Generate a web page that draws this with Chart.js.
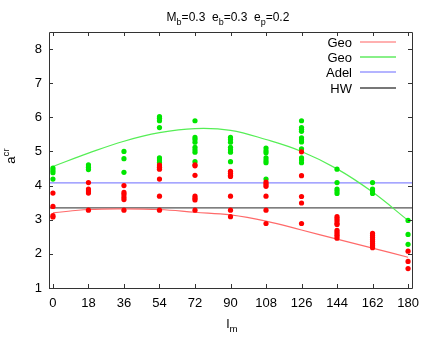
<!DOCTYPE html>
<html><head><meta charset="utf-8">
<script src="https://cdn.jsdelivr.net/npm/chart.js@4"></script>
<style>html,body{margin:0;padding:0;background:#fff}#wrap{width:436px;height:354px;position:relative}</style>
</head><body><div id="wrap"><canvas id="c"></canvas></div>
<script>
// ---- data ----
const xTicks = [0, 18, 36, 54, 72, 90, 108, 126, 144, 162, 180];
const yTicks = [1, 2, 3, 4, 5, 6, 7, 8];
// red Geo points, one list per l_m value in xTicks
const redPointValues = [
  [3.78, 3.39, 3.12, 3.08],
  [4.09, 3.90, 3.84, 3.78, 3.28],
  [4.00, 3.80, 3.74, 3.66, 3.59, 3.28],
  [4.60, 4.54, 4.48, 4.19, 3.69, 3.28],
  [4.61, 4.58, 4.30, 3.69, 3.63, 3.58, 3.28],
  [4.42, 4.36, 4.30, 4.27, 3.69, 3.28, 3.09],
  [4.10, 4.04, 3.98, 3.69, 3.28, 2.89],
  [4.99, 4.29, 3.68, 3.49, 2.89],
  [3.09, 3.03, 2.97, 2.90, 2.86, 2.69, 2.63, 2.57, 2.52, 2.46],
  [2.60, 2.54, 2.48, 2.42, 2.36, 2.30, 2.24, 2.18],
  [2.08, 1.78, 1.57]
];
// green Geo points, one list per l_m value in xTicks
const greenPointValues = [
  [4.51, 4.44, 4.38, 4.19],
  [4.61, 4.54, 4.47],
  [5.00, 4.79, 4.39],
  [6.02, 5.97, 5.90, 5.70, 4.81, 4.75, 4.68],
  [5.90, 5.41, 5.35, 5.27, 5.12, 5.05, 4.98, 4.70],
  [5.41, 5.35, 5.27, 5.12, 5.05, 4.98, 4.70],
  [5.10, 5.02, 4.96, 4.81, 4.73, 4.67, 4.19],
  [5.90, 5.70, 5.65, 5.59, 5.40, 5.34, 5.28, 5.08, 4.81, 4.75, 4.67],
  [4.48, 4.09, 3.90, 3.84, 3.77],
  [4.09, 3.90, 3.84, 3.77],
  [2.98, 2.57, 2.28]
];
// fitted curves read at each tick
const redFit   = [3.20, 3.30, 3.32, 3.30, 3.22, 3.14, 2.96, 2.70, 2.43, 2.17, 1.90];
const greenFit = [4.56, 4.95, 5.30, 5.55, 5.67, 5.62, 5.35, 5.00, 4.49, 3.81, 2.98];
const adelValue = 4.08;
const hwValue = 3.35;
const xRange = [-2, 182];
const yRange = [1, 8.5];

// ---- build datasets ----
const toPts = (cols) => cols.flatMap((vals, i) => vals.map(v => ({x: xTicks[i], y: v})));
const fitPts = (arr) => arr.map((v, i) => ({x: xTicks[i], y: v}));
const hLine = (v) => [{x: xRange[0], y: v}, {x: xRange[1], y: v}];

const FONT = '"Liberation Sans", Arial, sans-serif';

function drawRich(ctx, parts, x, y, align, size) {
  const sub = size * 0.75;
  let w = 0;
  parts.forEach(p => { ctx.font = (p.s ? sub : size) + 'px ' + FONT; w += ctx.measureText(p.t).width; });
  let cx = align === 'center' ? x - w / 2 : (align === 'right' ? x - w : x);
  ctx.textAlign = 'left'; ctx.textBaseline = 'alphabetic';
  parts.forEach(p => {
    ctx.font = (p.s ? sub : size) + 'px ' + FONT;
    const dy = p.s === 'sub' ? size * 0.3 : (p.s === 'sup' ? -size * 0.45 : 0);
    ctx.fillText(p.t, cx, y + dy);
    cx += ctx.measureText(p.t).width;
  });
}

const decor = {
  id: 'decor',
  afterDraw(chart) {
    const ctx = chart.ctx, a = chart.chartArea;
    const xs = chart.scales.x, ys = chart.scales.y;
    ctx.save();
    ctx.strokeStyle = '#333'; ctx.lineWidth = 1;
    ctx.beginPath();
    ctx.rect(Math.round(a.left) + 0.5, Math.round(a.top) + 0.5, Math.round(a.right - a.left), Math.round(a.bottom - a.top));
    const tl = 4;
    xs.ticks.forEach(t => {
      const px = Math.round(xs.getPixelForValue(t.value)) + 0.5;
      ctx.moveTo(px, a.bottom); ctx.lineTo(px, a.bottom - tl);
      ctx.moveTo(px, a.top); ctx.lineTo(px, a.top + tl);
    });
    ys.ticks.forEach(t => {
      const py = Math.round(ys.getPixelForValue(t.value)) + 0.5;
      ctx.moveTo(a.left, py); ctx.lineTo(a.left + tl, py);
      ctx.moveTo(a.right, py); ctx.lineTo(a.right - tl, py);
    });
    ctx.stroke();
    ctx.fillStyle = '#000';
    // title
    drawRich(ctx, [{t:'M'},{t:'b',s:'sub'},{t:'=0.3  e'},{t:'b',s:'sub'},{t:'=0.3  e'},{t:'p',s:'sub'},{t:'=0.2'}], 228, 21, 'center', 12);
    // x label
    drawRich(ctx, [{t:'l'},{t:'m',s:'sub'}], 232, 328, 'center', 13);
    // y label rotated
    ctx.save();
    ctx.translate(15, 156); ctx.rotate(-Math.PI / 2);
    drawRich(ctx, [{t:'a'},{t:'cr',s:'sup'}], 0, 0, 'center', 13);
    ctx.restore();
    // legend
    const items = chart.data.datasets.filter(d => d.inLegend);
    items.forEach((d, i) => {
      const y = 47 + i * 15.2;
      ctx.font = '13px ' + FONT; ctx.textAlign = 'right'; ctx.textBaseline = 'alphabetic';
      ctx.fillStyle = '#000';
      ctx.fillText(d.label, 352, y);
      ctx.strokeStyle = d.legendColor; ctx.lineWidth = 2;
      ctx.beginPath(); ctx.moveTo(360, Math.round(y - 5)); ctx.lineTo(396, Math.round(y - 5)); ctx.stroke();
    });
    ctx.restore();
  }
};

const lineDs = (label, data, color, legendColor, tension) => ({
  type: 'line', label, data, borderColor: color, borderWidth: 1.2, pointRadius: 0,
  fill: false, tension: tension, inLegend: true, legendColor, order: 2
});
const ptDs = (label, data, color) => ({
  type: 'scatter', label, data, backgroundColor: color, borderWidth: 0, pointRadius: 2.6,
  pointHoverRadius: 2.6, inLegend: false, order: 1
});

new Chart(document.getElementById('c'), {
  data: {
    datasets: [
      ptDs('Geo points', toPts(redPointValues), '#ff0000'),
      ptDs('Geo points', toPts(greenPointValues), '#00e600'),
      lineDs('Geo', fitPts(redFit), '#ff6a6a', '#ffb0b0', 0.4),
      lineDs('Geo', fitPts(greenFit), '#55ee55', '#88f088', 0.4),
      lineDs('Adel', hLine(adelValue), '#8888ff', '#b4b4ff', 0),
      lineDs('HW', hLine(hwValue), '#555555', '#777777', 0)
    ]
  },
  options: {
    responsive: true, maintainAspectRatio: false, animation: false,
    layout: { padding: { left: 0, right: 24, top: 32, bottom: 0 } },
    plugins: { legend: { display: false }, title: { display: false }, tooltip: { enabled: false } },
    scales: {
      x: {
        type: 'linear', min: xRange[0], max: xRange[1],
        afterBuildTicks: s => { s.ticks = xTicks.map(v => ({value: v})); },
        afterFit: s => { s.height = 66; },
        grid: { display: false, drawTicks: false }, border: { display: false },
        ticks: { color: '#000', font: { family: FONT, size: 13 }, padding: 8, maxRotation: 0, autoSkip: false }
      },
      y: {
        type: 'linear', min: yRange[0], max: yRange[1],
        afterBuildTicks: s => { s.ticks = yTicks.map(v => ({value: v})); },
        afterFit: s => { s.width = 49; },
        grid: { display: false, drawTicks: false }, border: { display: false },
        ticks: { color: '#000', font: { family: FONT, size: 13 }, padding: 7 }
      }
    }
  },
  plugins: [decor]
});
</script>
</body></html>
